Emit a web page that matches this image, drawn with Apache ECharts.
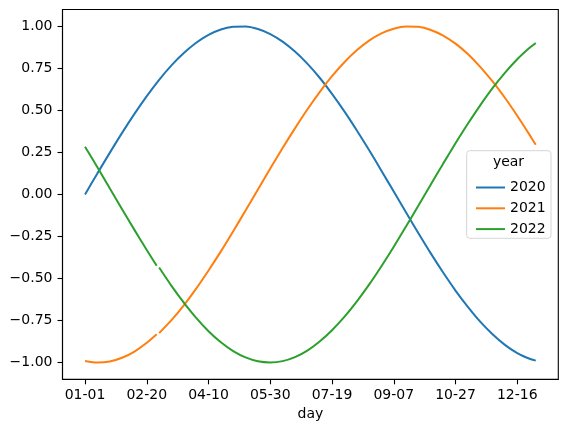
<!DOCTYPE html>
<html>
<head>
<meta charset="utf-8">
<script src="https://cdn.jsdelivr.net/npm/echarts@6/dist/echarts.min.js"></script>
<style>
  html, body { margin: 0; padding: 0; background: #fff; }
  #main { width: 568px; height: 432px; }
</style>
</head>
<body>
<div id="main"></div>
<script>
// 数据：按天(闰年 2020 的日序)取样，每 10 天一个点
var years = ['2020', '2021', '2022'];
var colors = ['#1f77b4', '#ff7f0e', '#2ca02c'];

var days2020 = [0, 10, 20, 30, 40, 50, 60, 70, 80, 90, 100, 110, 120, 130, 140, 150, 160, 170, 180,
  190, 200, 210, 220, 230, 240, 250, 260, 270, 280, 290, 300, 310, 320, 330, 340, 350, 360, 365];
// 2021/2022 没有 02-29 (第 59 天)，那里断开
var daysGap = [0, 10, 20, 30, 40, 50, 58, 59, 60, 70, 80, 90, 100, 110, 120, 130, 140, 150, 160, 170,
  180, 190, 200, 210, 220, 230, 240, 250, 260, 270, 280, 290, 300, 310, 320, 330, 340, 350, 360, 365];

var v2020 = [0, 0.125, 0.247, 0.366, 0.479, 0.585, 0.682, 0.768, 0.841, 0.902, 0.949, 0.981, 0.997,
  0.999, 0.984, 0.954, 0.909, 0.850, 0.778, 0.694, 0.598, 0.494, 0.382, 0.264, 0.141, 0.017, -0.108,
  -0.231, -0.351, -0.465, -0.572, -0.669, -0.757, -0.832, -0.895, -0.944, -0.978, -0.989];
var v2021 = [-0.991, -1.000, -0.994, -0.972, -0.935, -0.883, -0.832, null, -0.825, -0.748, -0.660,
  -0.561, -0.453, -0.339, -0.219, -0.096, 0.029, 0.154, 0.276, 0.393, 0.505, 0.609, 0.703, 0.786,
  0.857, 0.915, 0.958, 0.986, 0.999, 0.997, 0.978, 0.945, 0.897, 0.835, 0.759, 0.672, 0.575, 0.468,
  0.354, 0.295];
var v2022 = [0.283, 0.162, 0.037, -0.088, -0.211, -0.331, -0.424, null, -0.435, -0.544, -0.644,
  -0.735, -0.814, -0.880, -0.932, -0.970, -0.993, -1.000, -0.992, -0.968, -0.929, -0.875, -0.808,
  -0.729, -0.638, -0.537, -0.427, -0.311, -0.190, -0.066, 0.059, 0.183, 0.304, 0.420, 0.530, 0.632,
  0.723, 0.804, 0.872, 0.901];

var xTicks = [0, 50, 100, 150, 200, 250, 300, 350];
var xTickLabels = ['01-01', '02-20', '04-10', '05-30', '07-19', '09-07', '10-27', '12-16'];
var yTicks = [-1, -0.75, -0.5, -0.25, 0, 0.25, 0.5, 0.75, 1];
var yTickLabels = ['\u22121.00', '\u22120.75', '\u22120.50', '\u22120.25', '0.00', '0.25', '0.50', '0.75', '1.00'];

function pairs(xs, ys) {
  var out = [];
  for (var i = 0; i < xs.length; i++) {
    out.push([xs[i], ys[i]]);
  }
  return out;
}

var seriesData = [pairs(days2020, v2020), pairs(daysGap, v2021), pairs(daysGap, v2022)];

var font = 'DejaVu Sans';
var myChart = echarts.init(document.getElementById('main'), null, { renderer: 'canvas' });

var axisLine = { show: true, onZero: false, lineStyle: { color: '#000', width: 1.1 } };
var axisTick = { show: true, length: 5, lineStyle: { color: '#000', width: 1.1 } };

var option = {
  animation: false,
  textStyle: { fontFamily: font },
  grid: {
    left: 62.5, right: 9.7, top: 9.5, bottom: 52.7,
    show: true, borderColor: '#000', borderWidth: 1.1, backgroundColor: '#fff'
  },
  xAxis: {
    type: 'value',
    min: -18.25,
    max: 383.25,
    name: 'day',
    nameLocation: 'middle',
    nameGap: 27,
    nameTextStyle: { color: '#000', fontSize: 14, fontFamily: font },
    splitLine: { show: false },
    axisLine: axisLine,
    axisTick: Object.assign({ customValues: xTicks }, axisTick),
    axisLabel: {
      color: '#000', fontSize: 14, fontFamily: font, margin: 9,
      customValues: xTicks,
      formatter: function (v) {
        var i = xTicks.indexOf(v);
        return i >= 0 ? xTickLabels[i] : '';
      }
    }
  },
  yAxis: {
    type: 'value',
    min: -1.1,
    max: 1.1,
    splitLine: { show: false },
    axisLine: axisLine,
    axisTick: Object.assign({ customValues: yTicks }, axisTick),
    axisLabel: {
      color: '#000', fontSize: 14, fontFamily: font, margin: 10,
      customValues: yTicks,
      formatter: function (v) {
        var best = 0;
        for (var i = 0; i < yTicks.length; i++) {
          if (Math.abs(yTicks[i] - v) < Math.abs(yTicks[best] - v)) best = i;
        }
        return yTickLabels[best];
      }
    }
  },
  legend: {
    orient: 'vertical',
    left: 471,
    top: 175.5,
    z: 20,
    itemWidth: 29,
    itemHeight: 2,
    itemGap: 6.8,
    icon: 'rect',
    data: years,
    textStyle: { color: '#000', fontSize: 14, fontFamily: font, lineHeight: 14 }
  },
  graphic: [
    {
      type: 'rect',
      z: 10,
      shape: { x: 466.7, y: 150.7, width: 84.3, height: 87.6, r: 3 },
      style: { fill: 'rgba(255,255,255,0.8)', stroke: '#d6d6d6', lineWidth: 1 }
    },
    {
      type: 'text',
      z: 20,
      x: 508.5,
      y: 162.5,
      style: {
        text: 'year', fill: '#000', font: '14px "DejaVu Sans"',
        textAlign: 'center', textVerticalAlign: 'middle'
      }
    }
  ],
  series: years.map(function (y, i) {
    return {
      name: y,
      type: 'line',
      data: seriesData[i],
      showSymbol: false,
      symbol: 'none',
      smooth: 0.25,
      connectNulls: false,
      color: colors[i],
      lineStyle: { width: 2, color: colors[i] }
    };
  })
};

myChart.setOption(option);
</script>
</body>
</html>
